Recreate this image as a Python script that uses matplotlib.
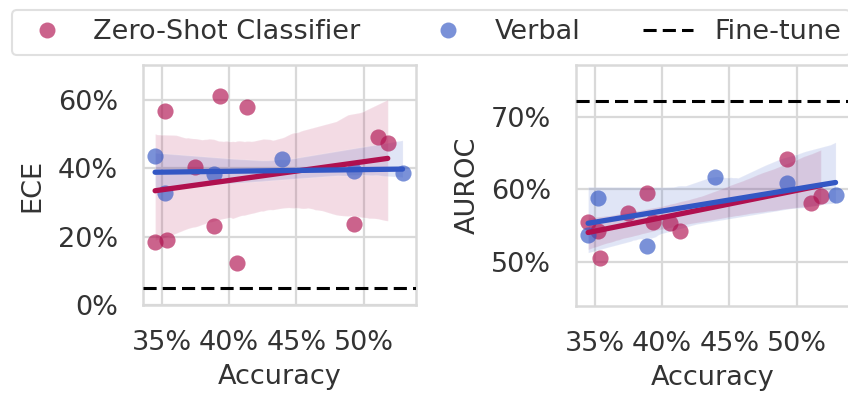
import numpy as np
import matplotlib
matplotlib.use("Agg")
import matplotlib.pyplot as plt
from matplotlib.lines import Line2D
from matplotlib.ticker import PercentFormatter, MultipleLocator
import seaborn as sns

# Model accuracies (%) for each method
zs_acc = [34.5, 35.2, 35.4, 37.5, 38.9, 39.3, 40.6, 41.3, 49.3, 51.1, 51.8]
verbal_acc = [34.5, 35.2, 38.9, 43.9, 49.3, 52.9]

# Expected calibration error (%)
zs_ece = [18.3, 56.6, 19.1, 40.4, 23.0, 61.0, 12.3, 57.8, 23.8, 49.2, 47.4]
verbal_ece = [43.6, 32.9, 38.2, 42.8, 39.2, 38.7]
finetune_ece = 4.9

# AUROC (%)
zs_auroc = [55.5, 54.2, 50.6, 56.7, 59.5, 55.5, 55.3, 54.2, 64.2, 58.1, 59.1]
verbal_auroc = [53.7, 58.8, 52.2, 61.7, 60.9, 59.3]
finetune_auroc = 72.2

labels = ["Zero-Shot Classifier", "Verbal", "Fine-tune"]

sns.set_theme(style="whitegrid")
plt.rcParams["font.family"] = ["DejaVu Sans"]

PINK = "#B0104F"
BLUE = "#3357C4"
TEXT = "#333333"
GRID = "#d9d9d9"
FS = 19.5
DASH = (0, (4.3, 2.0))

fig = plt.figure(figsize=(8.48, 3.93), dpi=100)
W, H = 848, 393
ax1 = fig.add_axes([143 / W, 1 - 305 / H, 273 / W, 240 / H])
ax2 = fig.add_axes([576 / W, 1 - 306 / H, 273 / W, 241 / H])


def panel(ax, zs_y, vb_y, ft, ylabel, ylim, ystep, ylabelpad):
    ax.scatter(zs_acc, zs_y, s=135, color=PINK, alpha=0.65, linewidths=0, zorder=2)
    ax.scatter(verbal_acc, vb_y, s=135, color=BLUE, alpha=0.65, linewidths=0, zorder=2)
    sns.regplot(x=np.array(zs_acc), y=np.array(zs_y), ax=ax, scatter=False,
                color=PINK, ci=95, n_boot=1000, seed=3,
                line_kws=dict(lw=3.8, zorder=3))
    sns.regplot(x=np.array(verbal_acc), y=np.array(vb_y), ax=ax, scatter=False,
                color=BLUE, ci=95, n_boot=1000, seed=3,
                line_kws=dict(lw=3.8, zorder=3))
    ax.axhline(ft, color="black", lw=2.2, ls=DASH, zorder=4)
    ax.set_xlim(33.6, 53.9)
    ax.set_ylim(*ylim)
    ax.xaxis.set_major_locator(MultipleLocator(5))
    ax.yaxis.set_major_locator(MultipleLocator(ystep))
    ax.xaxis.set_major_formatter(PercentFormatter(100, decimals=0))
    ax.yaxis.set_major_formatter(PercentFormatter(100, decimals=0))
    ax.tick_params(labelsize=FS, colors=TEXT, length=0, pad=18)
    ax.set_xlabel("Accuracy", fontsize=FS, color=TEXT, labelpad=6)
    ax.set_ylabel(ylabel, fontsize=FS, color=TEXT, labelpad=ylabelpad)
    ax.grid(True, lw=1.6, color=GRID)
    for sp in ax.spines.values():
        sp.set_linewidth(1.8)
        sp.set_color(GRID)


panel(ax1, zs_ece, verbal_ece, finetune_ece, "ECE", (0, 70.2), 20, 9)
panel(ax2, zs_auroc, verbal_auroc, finetune_auroc, "AUROC", (43.9, 77.2), 10, 7)

handles = [
    Line2D([], [], ls="none", marker="o", ms=11.5, color=PINK, alpha=0.65, mew=0),
    Line2D([], [], ls="none", marker="o", ms=11.5, color=BLUE, alpha=0.65, mew=0),
    Line2D([], [], color="black", lw=2.2, ls=DASH),
]
leg = fig.legend(handles, labels, loc="upper left", bbox_to_anchor=(12 / W, 1 - 10 / H),
                 borderaxespad=0, ncol=3, fontsize=FS, frameon=True,
                 handlelength=1.85, handletextpad=0.8, columnspacing=2.3,
                 borderpad=0.35)
leg.get_frame().set_edgecolor(GRID)
leg.get_frame().set_linewidth(1.5)
for t in leg.get_texts():
    t.set_color(TEXT)

fig.savefig("out.png", dpi=100)
